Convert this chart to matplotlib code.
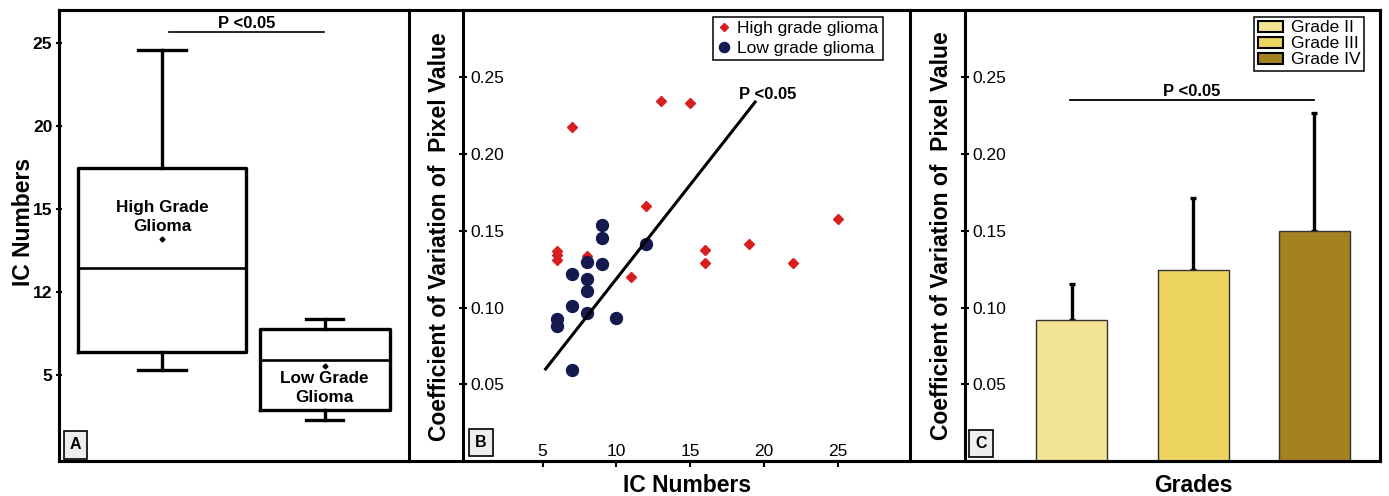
import matplotlib.pyplot as plt
from matplotlib.patches import Rectangle, Patch

plt.rcParams['font.family'] = ['Liberation Sans', 'DejaVu Sans']

# ---- data ----
# panel A: box plot; the printed y ticks are evenly spaced but labelled 5,12,15,20,25,
# so values are kept in the evenly spaced tick units
box_names = ['High Grade\nGlioma', 'Low Grade\nGlioma']
box_whislo = [5.3, 2.3]
box_q1 = [6.4, 2.9]
box_med = [11.45, 5.9]
box_q3 = [17.5, 7.75]
box_whishi = [24.6, 8.35]
box_mean = [13.2, 5.5]
a_tick_pos = [5, 10, 15, 20, 25]
a_tick_labels = ['5', '12', '15', '20', '25']

# panel B: scatter
hgg_ic = [7, 13, 15, 12, 25, 16, 16, 19, 22, 11, 6, 6, 6, 8]
hgg_cv = [0.2175, 0.235, 0.2334, 0.166, 0.158, 0.1375, 0.129, 0.1416, 0.129,
          0.120, 0.1368, 0.1342, 0.1313, 0.1337]
lgg_ic = [9, 9, 9, 12, 8, 8, 8, 8, 7, 7, 7, 6, 6, 10]
lgg_cv = [0.1536, 0.1451, 0.1281, 0.1416, 0.1296, 0.1185, 0.1106, 0.0962,
          0.1220, 0.1010, 0.0594, 0.0927, 0.0877, 0.0932]
fit_ic = [5.2, 19.4]
fit_cv = [0.060, 0.234]

# panel C: bars with upper error bars
grades = ['Grade II', 'Grade III', 'Grade IV']
grade_cv = [0.092, 0.1248, 0.150]
grade_err = [0.0236, 0.0465, 0.0766]
grade_colors = ['#f2e494', '#edd45f', '#a4821f']

cv_ticks = [0.05, 0.10, 0.15, 0.20, 0.25]
cv_tick_labels = ['0.05', '0.10', '0.15', '0.20', '0.25']
ic_ticks = [5, 10, 15, 20, 25]

W, H = 1389, 496
fig = plt.figure(figsize=(W / 100, H / 100), dpi=100)


def px_axes(x0, x1, y0=10, y1=461):
    return fig.add_axes([x0 / W, 1 - y1 / H, (x1 - x0) / W, (y1 - y0) / H])


SPW = 2.2
TS = 12.5

axA = px_axes(59, 409)
axB = px_axes(463, 910)
axC = px_axes(965, 1380)
for ax in (axA, axB, axC):
    for s in ax.spines.values():
        s.set_linewidth(SPW)

# outer frame joining the panels
fig.patches.append(Rectangle((59 / W, 1 - 461 / H), (1380 - 59) / W, 451 / H,
                             transform=fig.transFigure, fill=False,
                             lw=SPW, ec='black', zorder=5))

# ---------------- panel A ----------------
stats = []
for i in range(len(box_names)):
    stats.append(dict(whislo=box_whislo[i], q1=box_q1[i], med=box_med[i],
                      q3=box_q3[i], whishi=box_whishi[i], mean=box_mean[i],
                      fliers=[]))
lp = dict(lw=2.4, color='black')
axA.bxp(stats, positions=[1, 2], widths=[1.03, 0.80], capwidths=[0.30, 0.23],
        showmeans=True, showfliers=False, boxprops=lp, whiskerprops=lp,
        capprops=lp, medianprops=dict(lw=1.9, color='black'),
        meanprops=dict(marker='D', markersize=2.5, markerfacecolor='black',
                       markeredgecolor='black'))
axA.set_xlim(0.365, 2.52)
axA.set_ylim(-0.2, 27.0)
axA.set_xticks([])
axA.set_yticks(a_tick_pos)
axA.set_yticklabels(a_tick_labels)
axA.tick_params(axis='y', direction='inout', length=4, width=1.5, pad=2.8,
                labelsize=TS)
for t in axA.get_yticklabels():
    t.set_fontweight('bold')
axA.text(1, 14.5, box_names[0], ha='center', va='center', fontsize=12.3,
         fontweight='bold', linespacing=1.35)
axA.text(2, 4.2, box_names[1], ha='center', va='center', fontsize=12.3,
         fontweight='bold', linespacing=1.35)
axA.plot([1.045, 1.994], [25.7, 25.7], color='black', lw=1.2)
axA.text(1.52, 25.9, 'P <0.05', ha='center', va='baseline', fontsize=12,
         fontweight='bold')
fig.text(24 / W, 1 - 222 / H, 'IC Numbers', rotation=90, ha='center',
         va='center', fontsize=16.5, fontweight='bold')

# ---------------- panel B ----------------
axB.plot(hgg_ic, hgg_cv, 'D', ms=5.2, color='#d81e1e', mec='#d81e1e',
         label='High grade glioma', zorder=3)
axB.plot(lgg_ic, lgg_cv, 'o', ms=8.6, color='#141a50', mec='#141a50',
         label='Low grade glioma', zorder=4)
axB.plot(fit_ic, fit_cv, color='black', lw=2.2, zorder=5)
axB.text(20.27, 0.236, 'P <0.05', ha='center', va='baseline', fontsize=12,
         fontweight='bold')
axB.set_xlim(-0.4, 29.9)
axB.set_ylim(0.0, 0.294)
axB.set_xticks(ic_ticks)
axB.set_yticks(cv_ticks)
axB.set_yticklabels(cv_tick_labels)
axB.tick_params(axis='x', direction='out', length=4, width=1.5, pad=-7.6,
                labelsize=TS)
for t in axB.get_xticklabels():
    t.set_va('baseline')
leg = axB.legend(loc='upper right', bbox_to_anchor=(0.9396, 0.9845),
                 borderaxespad=0, fontsize=TS, frameon=True, fancybox=False,
                 edgecolor='black', framealpha=1, handlelength=0.8,
                 handletextpad=0.35, labelspacing=0.25, borderpad=0.25,
                 numpoints=1, markerscale=0.85)
leg.get_frame().set_linewidth(1.1)
fig.text(439 / W, 1 - 236.7 / H, 'Coefficient of Variation of  Pixel Value',
         rotation=90, ha='center', va='center', fontsize=16.5,
         fontweight='bold')
fig.text(686.7 / W, 1 - 491.7 / H, 'IC Numbers', ha='center', va='baseline',
         fontsize=16.5, fontweight='bold')

# ---------------- panel C ----------------
xs = list(range(len(grades)))
axC.bar(xs, grade_cv, width=0.585, color=grade_colors, edgecolor='#333333',
        lw=1.0, zorder=2)
axC.errorbar(xs, grade_cv, yerr=[[0] * len(xs), grade_err], fmt='none',
             ecolor='black', elinewidth=2.4, capsize=2.5, capthick=2.4,
             zorder=1)
axC.plot([-0.016, 1.996], [0.2352, 0.2352], color='black', lw=1.3)
axC.text(0.986, 0.238, 'P <0.05', ha='center', va='baseline', fontsize=12,
         fontweight='bold')
axC.set_xlim(-0.88, 2.54)
axC.set_ylim(0.0, 0.294)
axC.set_xticks([])
axC.set_yticks(cv_ticks)
axC.set_yticklabels(cv_tick_labels)
handles = [Patch(facecolor=c, edgecolor='black', lw=1.5) for c in grade_colors]
legC = axC.legend(handles, grades, loc='upper right',
                  bbox_to_anchor=(0.961, 0.9845), borderaxespad=0,
                  fontsize=TS, frameon=True, fancybox=False, edgecolor='black',
                  framealpha=1, handlelength=1.45, handleheight=0.6,
                  handletextpad=0.46, labelspacing=0.05, borderpad=0.2)
legC.get_frame().set_linewidth(1.1)
fig.text(941.5 / W, 1 - 235.8 / H, 'Coefficient of Variation of  Pixel Value',
         rotation=90, ha='center', va='center', fontsize=16.5,
         fontweight='bold')
fig.text(1193.3 / W, 1 - 491.7 / H, 'Grades', ha='center', va='baseline',
         fontsize=16.5, fontweight='bold')

# y ticks of B and C sit inside the axes
for ax in (axB, axC):
    ax.tick_params(axis='y', direction='inout', length=6, width=1.5, pad=-8,
                   labelsize=TS)
    for t in ax.get_yticklabels():
        t.set_ha('left')

# panel letters
for ax, letter, fx, fy in ((axA, 'A', 0.047, 0.0355), (axB, 'B', 0.0398, 0.041),
                           (axC, 'C', 0.0386, 0.039)):
    ax.text(fx, fy, letter, transform=ax.transAxes, ha='center', va='center',
            fontsize=11.5, fontweight='bold', zorder=6,
            bbox=dict(boxstyle='square,pad=0.38', fc='#eeeeee', ec='black',
                      lw=1.2))

fig.savefig('out.png', dpi=100)
